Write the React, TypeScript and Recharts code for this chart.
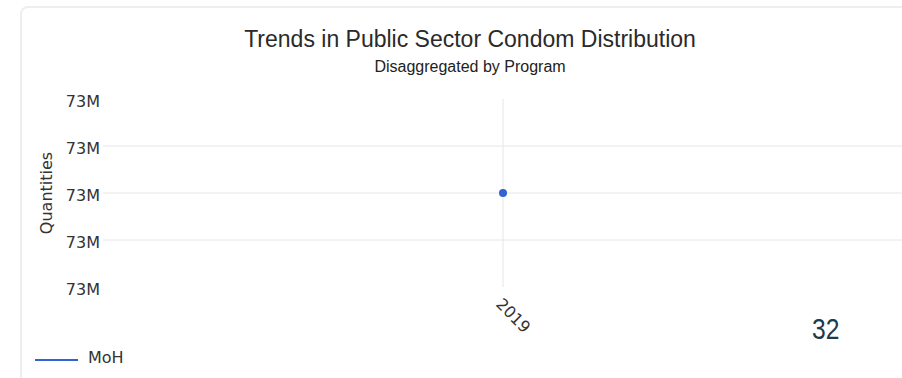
import React from 'react';
import { LineChart, Line, XAxis, YAxis, ReferenceLine, Legend } from 'recharts';

const categories = ['2019'];
const mohValues = [73000000];
const yTicks = [72999998, 72999999, 73000000, 73000001, 73000002];
const innerGridTicks = [72999999, 73000000, 73000001];
const seriesName = 'MoH';
const seriesColor = '#2f63d6';

const data = categories.map((c, i) => ({ year: c, MoH: mohValues[i] }));

const axisFont = '"DejaVu Sans", sans-serif';

const renderLegend = (props: any) => {
  const { payload } = props;
  return (
    <div style={{ display: 'flex', flexDirection: 'column' }}>
      {(payload || []).map((entry: any) => (
        <div key={entry.value} style={{ display: 'flex', alignItems: 'center', height: 20 }}>
          <svg width={43} height={8} style={{ display: 'block', marginTop: 6 }}>
            <line x1={0} y1={4} x2={43} y2={4} stroke={entry.color} strokeWidth={2} />
          </svg>
          <span style={{ marginLeft: 10, fontFamily: axisFont, fontSize: 16, color: '#333' }}>{entry.value}</span>
        </div>
      ))}
    </div>
  );
};

const renderYLabel = (props: any) => {
  const vb = props.viewBox || {};
  const cx = (vb.x || 0) + 46;
  const cy = (vb.y || 0) + (vb.height || 0) / 2;
  return (
    <text
      x={cx}
      y={cy}
      transform={`rotate(-90, ${cx}, ${cy})`}
      textAnchor="middle"
      dominantBaseline="central"
      fontFamily={axisFont}
      fontSize={16}
      fill="#333"
    >
      Quantities
    </text>
  );
};

export default function App() {
  return (
    <div
      style={{
        position: 'fixed',
        left: 0,
        top: 0,
        width: 902,
        height: 378,
        overflow: 'hidden',
        background: '#fff',
      }}
    >
      <div
        style={{
          position: 'absolute',
          left: 20,
          top: 6,
          width: 1000,
          height: 500,
          border: '2px solid #eceef2',
          borderRadius: 8,
          boxSizing: 'border-box',
        }}
      />
      <div
        style={{
          position: 'absolute',
          left: 0,
          width: 940,
          top: 28,
          textAlign: 'center',
          fontFamily: '"Liberation Sans", Arial, sans-serif',
          fontSize: 23,
          lineHeight: '23px',
          color: '#2a2a2a',
          whiteSpace: 'nowrap',
        }}
      >
        Trends in Public Sector Condom Distribution
      </div>
      <div
        style={{
          position: 'absolute',
          left: 0,
          width: 940,
          top: 59,
          textAlign: 'center',
          fontFamily: '"Liberation Sans", Arial, sans-serif',
          fontSize: 16,
          lineHeight: '16px',
          color: '#222',
          whiteSpace: 'nowrap',
        }}
      >
        Disaggregated by Program
      </div>
      <div style={{ position: 'absolute', left: 0, top: 0 }}>
        <LineChart
          width={1000}
          height={378}
          data={data}
          margin={{ top: 99, right: 97, left: 0, bottom: 0 }}
          style={{ fontFamily: axisFont }}
        >
          {innerGridTicks.map((t) => (
            <ReferenceLine key={t} y={t} stroke="#e6e6e6" strokeWidth={1} />
          ))}
          {categories.map((c) => (
            <ReferenceLine key={c} x={c} stroke="#e6e6e6" strokeWidth={1} />
          ))}
          <XAxis
            dataKey="year"
            height={91}
            axisLine={false}
            tickLine={false}
            tickMargin={4}
            angle={45}
            tick={{ textAnchor: 'start', fill: '#333', fontSize: 16, fontFamily: axisFont } as any}
          />
          <YAxis
            width={103}
            domain={[yTicks[0], yTicks[yTicks.length - 1]]}
            ticks={yTicks}
            axisLine={false}
            tickLine={false}
            tickSize={0}
            tickMargin={3}
            tickFormatter={(v: number) => `${Math.round(v / 1e6)}M`}
            tick={{ fill: '#333', fontSize: 16, fontFamily: axisFont, dy: 2 } as any}
            label={{ content: renderYLabel } as any}
          />
          <Legend
            layout="horizontal"
            align="center"
            verticalAlign="middle"
            content={renderLegend}
            wrapperStyle={{ left: 35, top: 347, width: 150, height: 22 }}
          />
          <Line
            type="linear"
            dataKey="MoH"
            name={seriesName}
            stroke={seriesColor}
            strokeWidth={2}
            dot={{ r: 4, fill: seriesColor, stroke: seriesColor, strokeWidth: 0 }}
            isAnimationActive={false}
          />
        </LineChart>
      </div>
      <div
        style={{
          position: 'absolute',
          left: 812,
          top: 315,
          fontFamily: '"Liberation Sans", Arial, sans-serif',
          fontSize: 29,
          lineHeight: '29px',
          color: '#1d3b48',
          transform: 'scaleX(0.85)',
          transformOrigin: 'left top',
        }}
      >
        32
      </div>
    </div>
  );
}
